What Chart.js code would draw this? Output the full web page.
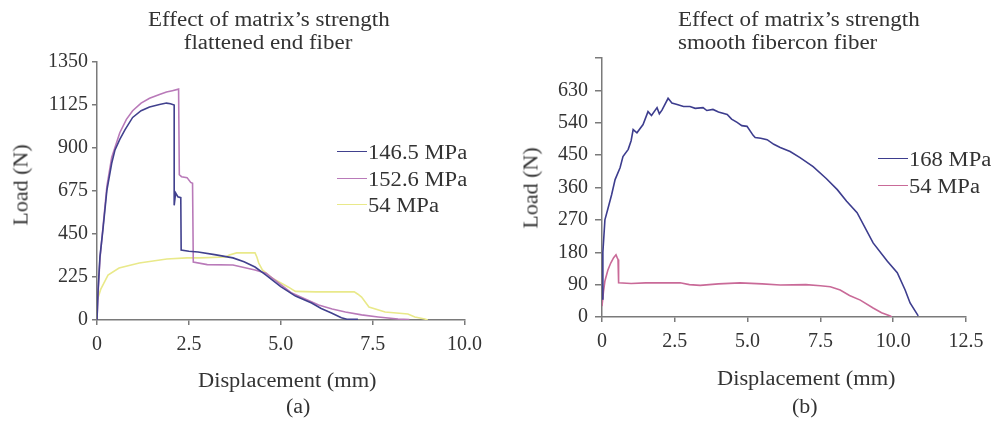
<!DOCTYPE html>
<html>
<head>
<meta charset="utf-8">
<script src="https://cdn.jsdelivr.net/npm/chart.js@4.4.1/dist/chart.umd.min.js"></script>
<style>
  html, body { margin:0; padding:0; background:#fff; }
  #wrap { position:relative; width:995px; height:421px; overflow:hidden; font-family:"Liberation Serif", "Times New Roman", serif; color:#333; }
  canvas { position:absolute; top:0; }
  .t { position:absolute; white-space:nowrap; font-size:20px; line-height:23px; transform-origin:left top; }
  .leg { position:absolute; font-size:20px; line-height:26px; }
  .leg div { position:relative; height:26.5px; white-space:nowrap; }
  .leg span.sw { position:absolute; left:0; top:12px; width:30px; height:0; border-top:1.6px solid; }
  .leg span.tx { position:absolute; left:31px; top:0; transform:scaleX(1.13); transform-origin:left top; }
</style>
</head>
<body>
<div id="wrap">
  <canvas id="c1" width="490" height="421" style="left:0;width:490px;height:421px"></canvas>
  <canvas id="c2" width="505" height="421" style="left:490px;width:505px;height:421px"></canvas>

  <div class="t" style="left:148px;top:8px;transform:scaleX(1.15)">Effect of matrix’s strength</div>
  <div class="t" style="left:178px;top:31px;transform:scaleX(1.15)">&nbsp;flattened end fiber</div>
  <div class="t" style="left:678px;top:8px;transform:scaleX(1.15)">Effect of matrix’s strength</div>
  <div class="t" style="left:678px;top:31px;transform:scaleX(1.15)">smooth fibercon fiber</div>

  <div class="t" style="left:198px;top:369px;transform:scaleX(1.12)">Displacement (mm)</div>
  <div class="t" style="left:717px;top:367px;transform:scaleX(1.12)">Displacement (mm)</div>
  <div class="t" style="left:286px;top:395px;transform:scaleX(1.1)">(a)</div>
  <div class="t" style="left:792px;top:395px;transform:scaleX(1.1)">(b)</div>

  <div class="t" style="left:20px;top:185px;font-size:22px;transform:translate(-50%,-50%) rotate(-90deg);transform-origin:center">Load (N)</div>
  <div class="t" style="left:530px;top:188px;font-size:22px;transform:translate(-50%,-50%) rotate(-90deg);transform-origin:center">Load (N)</div>

  <div class="leg" id="leg1" style="left:337px;top:139px"></div>
  <div class="leg" id="leg2" style="left:878px;top:146px"></div>
</div>
<script>
// ---------- Chart (a): flattened end fiber ----------
const labelsA = ["146.5 MPa", "152.6 MPa", "54 MPa"];
const xTicksA = [0, 2.5, 5.0, 7.5, 10.0];
const yTicksA = [0, 225, 450, 675, 900, 1125, 1350];

const dispA1 = [0,0.03,0.08,0.16,0.27,0.4,0.49,0.62,0.76,0.97,1.2,1.43,1.7,1.89,2.0,2.1,2.1,2.14,2.2,2.28,2.29,2.5,2.75,3.2,3.7,4.0,4.3,4.6,5.0,5.4,5.84,6.1,6.38,6.65,6.8,7.1];
const loadA1 = [0,160,330,470,680,820,890,945,995,1060,1095,1115,1128,1135,1132,1125,600,665,645,640,366,360,356,342,325,305,277,235,175,125,89,60,37,12,4,4];

const dispA2 = [0,0.03,0.08,0.16,0.27,0.4,0.62,0.8,0.97,1.2,1.43,1.7,1.89,2.05,2.22,2.24,2.3,2.45,2.55,2.6,2.62,3.0,3.7,4.3,4.6,5.0,5.3,6.03,6.4,6.76,7.2,7.65,8.19,8.5];
const loadA2 = [0,140,320,480,700,850,980,1050,1095,1135,1160,1180,1193,1200,1208,760,750,745,720,715,303,290,288,262,245,185,141,78,58,42,27,16,5,2];

const dispA3 = [0,0.05,0.1,0.3,0.6,1.15,1.9,2.45,2.8,3.5,3.6,3.8,4.3,4.35,4.4,4.5,4.76,5.2,5.4,5.95,7.0,7.1,7.2,7.4,7.84,8.46,8.65,8.92,9.0];
const loadA3 = [100,130,160,235,272,298,319,325,325,330,340,351,351,330,298,262,220,173,150,147,147,135,120,68,42,31,16,5,0];

// ---------- Chart (b): smooth fibercon fiber ----------
const labelsB = ["168 MPa", "54 MPa"];
const xTicksB = [0, 2.5, 5.0, 7.5, 10.0, 12.5];
const yTicksB = [0, 90, 180, 270, 360, 450, 540, 630];

const dispB1 = [0,0.03,0.1,0.2,0.33,0.45,0.62,0.72,0.9,1.0,1.07,1.2,1.41,1.58,1.7,1.89,1.97,2.06,2.27,2.4,2.58,2.8,3.02,3.2,3.47,3.6,3.81,4.0,4.3,4.45,4.64,4.8,4.98,5.19,5.26,5.45,5.67,5.9,6.12,6.46,6.8,7.25,7.7,8.08,8.4,8.76,9.31,9.8,10.14,10.41,10.58,10.86];
const loadB1 = [50,180,270,300,340,382,415,446,466,490,521,512,535,571,560,582,565,575,608,595,591,585,585,580,582,574,577,570,563,550,541,532,530,505,499,497,493,480,471,460,443,418,385,354,322,290,206,155,123,75,39,3];

const dispB2 = [0,0.05,0.1,0.2,0.3,0.4,0.48,0.52,0.55,0.57,1.0,1.5,2.0,2.68,3.0,3.37,4.0,4.74,5.5,6.12,7.0,7.5,7.84,8.18,8.5,8.87,9.31,9.6,9.9,9.95];
const loadB2 = [30,70,100,130,150,165,173,165,160,95,93,95,95,95,90,88,92,95,92,89,90,87,84,75,60,47,25,12,3,0];

const colorsA = ["#41418e", "#b97ab9", "#e9e98a"];
const colorsB = ["#3d3d8e", "#c96a98"];

function pts(xs, ys) { return xs.map((x, i) => ({x: x, y: ys[i]})); }

function makeDataset(label, xs, ys, color) {
  return { label, data: pts(xs, ys), borderColor: color, backgroundColor: color,
           borderWidth: 1.6, pointRadius: 0, showLine: true, tension: 0, fill: false };
}

const tickFont = { family: "'Liberation Serif', 'Times New Roman', serif", size: 20 };
const axisCol = "#7a7a7a";

function makeOptions(cfg) {
  return {
    responsive: false, animation: false, devicePixelRatio: 1,
    layout: { padding: { top: cfg.top, right: cfg.right, bottom: 0, left: 0 } },
    plugins: { legend: { display: false }, title: { display: false }, tooltip: { enabled: false } },
    scales: {
      x: {
        type: 'linear', min: 0, max: cfg.xmax,
        afterBuildTicks: (s) => { s.ticks = cfg.xt.map(v => ({ value: v })); },
        afterFit: (s) => { s.height = cfg.xh; },
        grid: { drawOnChartArea: false, drawTicks: true, tickLength: 5, color: axisCol, lineWidth: 1.5 },
        border: { color: axisCol, width: 1.5 },
        ticks: { font: tickFont, color: "#333", padding: 8, maxRotation: 0,
                 callback: (v) => v === 0 ? "0" : Number(v).toFixed(1) }
      },
      y: {
        type: 'linear', min: 0, max: cfg.ymax,
        afterBuildTicks: (s) => { s.ticks = cfg.yt.map(v => ({ value: v })); },
        afterFit: (s) => { s.width = cfg.yw; },
        grid: { drawOnChartArea: false, drawTicks: true, tickLength: cfg.ytl, color: axisCol, lineWidth: 1.5 },
        border: { color: axisCol, width: 1.5 },
        ticks: { font: tickFont, color: "#333", padding: cfg.ypad,
                 callback: (v) => cfg.ylab.includes(v) ? String(v) : "" }
      }
    }
  };
}

const chartA = new Chart(document.getElementById('c1'), {
  type: 'scatter',
  data: { datasets: [
    makeDataset(labelsA[0], dispA1, loadA1, colorsA[0]),
    makeDataset(labelsA[1], dispA2, loadA2, colorsA[1]),
    makeDataset(labelsA[2], dispA3, loadA3, colorsA[2])
  ] },
  options: makeOptions({ top: 62, right: 23, xmax: 10, xt: xTicksA, xh: 101, ymax: 1350,
                         yt: yTicksA, ylab: yTicksA, yw: 97, ytl: 5, ypad: 4 })
});

const chartB = new Chart(document.getElementById('c2'), {
  type: 'scatter',
  data: { datasets: [
    makeDataset(labelsB[0], dispB1, loadB1, colorsB[0]),
    makeDataset(labelsB[1], dispB2, loadB2, colorsB[1])
  ] },
  options: makeOptions({ top: 58, right: 29, xmax: 12.5, xt: xTicksB, xh: 104, ymax: 720,
                         yt: yTicksB.concat([720]), ylab: yTicksB, yw: 112, ytl: 7, ypad: 7 })
});

function buildLegend(chart, id) {
  const el = document.getElementById(id);
  chart.data.datasets.forEach(ds => {
    const row = document.createElement('div');
    const sw = document.createElement('span'); sw.className = 'sw'; sw.style.borderTopColor = ds.borderColor;
    const tx = document.createElement('span'); tx.className = 'tx'; tx.textContent = ds.label;
    row.appendChild(sw); row.appendChild(tx); el.appendChild(row);
  });
}
buildLegend(chartA, 'leg1');
buildLegend(chartB, 'leg2');
</script>
</body>
</html>
